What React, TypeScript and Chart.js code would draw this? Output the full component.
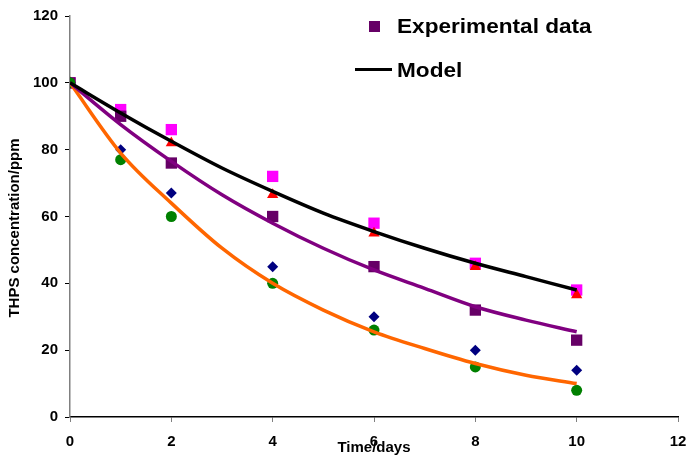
import React, { useEffect, useRef } from 'react';
import { Chart, registerables } from 'chart.js';

Chart.register(...registerables);

// Experimental data (x = time in days)
const expDays = [0, 1, 2, 4, 6, 8, 10];
const expMagenta = [100, 92, 86, 72, 58, 46, 38];
const expRedDays = [0, 2, 4, 6, 8, 10];
const expRed = [100, 82, 66.5, 55, 45, 36.5];
const expPurple = [100, 90, 76, 60, 45, 32, 23];
const expNavy = [100, 80, 67, 45, 30, 20, 14];
const expGreen = [100, 77, 60, 40, 26, 15, 8];

// Model curves
const modelDays = [0, 1, 2, 3, 4, 5, 6, 7, 8, 9, 10];
const modelBlack = [100, 91, 82.5, 74.5, 67.5, 61, 55.5, 50.5, 46, 42, 38];
const modelPurple = [100, 87.5, 76.5, 66.5, 58, 50.5, 44, 38.5, 33, 29, 25.5];
const modelOrange = [100, 79, 64, 50.5, 40, 32, 25.5, 20.5, 16, 12.5, 10];

const xTicks = [0, 2, 4, 6, 8, 10, 12];
const yTicks = [0, 20, 40, 60, 80, 100, 120];

const legendItems = ['Experimental data', 'Model'];
const yTitle = 'THPS concentration/ppm';
const xTitle = 'Time/days';

const FONT = "'Liberation Sans', Arial, Helvetica, sans-serif";

const pts = (xs: number[], ys: number[]) => xs.map((x, i) => ({ x, y: ys[i] }));

const textPlugin = {
  id: 'insideLegend',
  afterDraw(chart: any) {
    const ctx = chart.ctx;
    ctx.save();
    // legend markers
    ctx.fillStyle = '#660066';
    ctx.fillRect(369, 21, 11, 11);
    ctx.strokeStyle = '#000';
    ctx.lineWidth = 3;
    ctx.beginPath();
    ctx.moveTo(355, 69.5);
    ctx.lineTo(392, 69.5);
    ctx.stroke();
    // legend text (slightly wide, as in the reference)
    ctx.fillStyle = '#000';
    ctx.font = `bold 20px ${FONT}`;
    ctx.textBaseline = 'middle';
    ctx.textAlign = 'left';
    ctx.save();
    ctx.translate(397, 0);
    ctx.scale(1.13, 1);
    ctx.fillText(legendItems[0], 0, 27);
    ctx.fillText(legendItems[1], 0, 71);
    ctx.restore();
    // y axis title
    ctx.save();
    ctx.translate(15, 228);
    ctx.rotate(-Math.PI / 2);
    ctx.font = `bold 15px ${FONT}`;
    ctx.textAlign = 'center';
    ctx.textBaseline = 'middle';
    ctx.fillText(yTitle, 0, 0);
    ctx.restore();
    ctx.restore();
  },
};

export default function App() {
  const ref = useRef<HTMLCanvasElement>(null);
  useEffect(() => {
    if (!ref.current) return;
    const lineDs = (data: number[], color: string) => ({
      data: pts(modelDays, data),
      showLine: true,
      borderColor: color,
      backgroundColor: color,
      borderWidth: 3.5,
      pointRadius: 0,
      cubicInterpolationMode: 'monotone' as const,
      order: 0,
    });
    const ptDs = (xs: number[], data: number[], color: string, style: string, r: number, order: number) => ({
      data: pts(xs, data),
      showLine: false,
      borderColor: color,
      backgroundColor: color,
      borderWidth: 0,
      pointStyle: style,
      pointRadius: r,
      order,
    });
    const chart = new Chart(ref.current, {
      type: 'scatter',
      data: {
        datasets: [
          lineDs(modelBlack, '#000000'),
          lineDs(modelPurple, '#800080'),
          lineDs(modelOrange, '#FF6600'),
          ptDs(expDays, expGreen, '#008000', 'circle', 5.5, 1),
          ptDs(expDays, expNavy, '#000080', 'rectRot', 5.5, 2),
          ptDs(expDays, expPurple, '#660066', 'rect', 8, 3),
          ptDs(expRedDays, expRed, '#FF0000', 'triangle', 6.5, 4),
          ptDs(expDays, expMagenta, '#FF00FF', 'rect', 8, 5),
        ] as any,
      },
      options: {
        responsive: false,
        animation: false,
        layout: { padding: { top: 16, right: 11, left: 0, bottom: 0 } },
        plugins: { legend: { display: false }, tooltip: { enabled: false } },
        scales: {
          x: {
            type: 'linear',
            min: 0,
            max: 12,
            afterFit: (s: any) => { s.height = 44; s.paddingRight = 0; s.paddingLeft = 0; },
            afterBuildTicks: (s: any) => { s.ticks = xTicks.map((v) => ({ value: v })); },
            border: { display: true, color: '#000', width: 1.5 },
            grid: { display: true, drawOnChartArea: false, drawTicks: true, tickLength: 5, color: '#808080' },
            ticks: { color: '#000', padding: 11, font: { family: FONT, size: 15, weight: 'bold' } },
            title: {
              display: true,
              text: xTitle,
              color: '#000',
              padding: { top: 0, bottom: 4 },
              font: { family: FONT, size: 15, weight: 'bold' },
            },
          },
          y: {
            type: 'linear',
            min: 0,
            max: 120,
            afterFit: (s: any) => { s.width = 70; },
            afterBuildTicks: (s: any) => { s.ticks = yTicks.map((v) => ({ value: v })); },
            border: { display: true, color: '#808080', width: 1.5 },
            grid: { display: true, drawOnChartArea: false, drawTicks: true, tickLength: 5, color: '#000' },
            ticks: { color: '#000', padding: 7, font: { family: FONT, size: 15, weight: 'bold' } },
            title: { display: false },
          },
        },
      } as any,
      plugins: [textPlugin],
    });
    return () => chart.destroy();
  }, []);
  return (
    <div style={{ position: 'fixed', left: 0, top: 0, width: 689, height: 461, background: '#fff' }}>
      <canvas ref={ref} width={689} height={461} style={{ display: 'block' }} />
    </div>
  );
}
